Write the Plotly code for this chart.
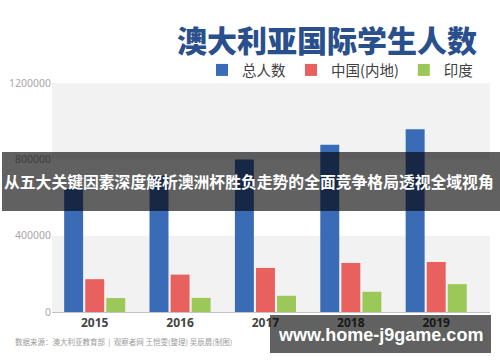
import plotly.graph_objects as go

years = ["2015", "2016", "2017", "2018", "2019"]
total = [645000, 714000, 799000, 876000, 957000]
china = [172000, 196000, 231000, 257000, 262000]
india = [73000, 74000, 85000, 106000, 146000]

series_names = ["总人数", "中国(内地)", "印度"]
colors = ["#3a6bb6", "#e8615f", "#9cc85a"]
ytick_vals = [0, 400000, 800000, 1200000]
ytick_text = ["0", "400000", "800000", "1200000"]

title_text = "澳大利亚国际学生人数"
banner_text = "从五大关键因素深度解析澳洲杯胜负走势的全面竞争格局透视全域视角"
source_text = "数据来源：澳大利亚教育部  |  观察者网 王恺雯(整理) 吴辰晨(制图)"
watermark_text = "www.home-j9game.com"

W, H = 500, 362
L, R, T, B = 52, 10, 83, 50
PW = W - L - R
PH = H - T - B


def px(x):
    return (x - L) / PW


def py(y):
    return (H - B - y) / PH


fig = go.Figure()
for name, vals, c in zip(series_names, [total, china, india], colors):
    fig.add_trace(go.Bar(x=years, y=vals, name=name, marker=dict(color=c, line=dict(width=0))))

shapes = [
    dict(type="rect", xref="paper", yref="y", x0=0, x1=1, y0=0, y1=400000,
         fillcolor="#f2f2f2", line=dict(width=0), layer="below"),
    dict(type="rect", xref="paper", yref="y", x0=0, x1=1, y0=800000, y1=1200000,
         fillcolor="#f2f2f2", line=dict(width=0), layer="below"),
    dict(type="rect", xref="paper", yref="paper", x0=px(2), x1=px(500), y0=py(211), y1=py(152),
         fillcolor="rgba(0,0,0,0.62)", line=dict(width=0), layer="above"),
    dict(type="rect", xref="paper", yref="paper", x0=px(270), x1=px(491), y0=py(353), y1=py(315),
         fillcolor="rgba(0,0,0,0.62)", line=dict(width=0), layer="above"),
]

annotations = [
    dict(text=title_text, xref="paper", yref="paper", x=px(479), y=py(39), xanchor="right",
         yanchor="middle", showarrow=False,
         font=dict(family="Noto Sans CJK SC", size=30, color="#2a4f8d", weight=900)),
    dict(text=source_text, xref="paper", yref="paper", x=px(13), y=py(341), xanchor="left",
         yanchor="middle", showarrow=False,
         font=dict(family="Noto Sans CJK SC", size=7.5, color="#9a9a9a")),
    dict(text=banner_text, xref="paper", yref="paper", x=px(249), y=py(181), xanchor="center",
         yanchor="middle", showarrow=False,
         font=dict(family="Noto Sans CJK SC", size=15.8, color="#ffffff", weight="bold")),
    dict(text=watermark_text, xref="paper", yref="paper", x=px(380), y=py(335), xanchor="center",
         yanchor="middle", showarrow=False,
         font=dict(family="Liberation Sans", size=18, color="#ffffff", weight="bold")),
]

fig.update_layout(
    width=W, height=H,
    margin=dict(l=L, r=R, t=T, b=B, pad=0, autoexpand=False),
    paper_bgcolor="#ffffff", plot_bgcolor="#ffffff",
    barmode="group", bargap=0.26, bargroupgap=0.1,
    showlegend=True,
    legend=dict(orientation="h", xanchor="right", x=px(478), yanchor="middle", y=py(70),
                font=dict(family="Noto Sans CJK SC", size=14.5, color="#404040"),
                bgcolor="rgba(0,0,0,0)", traceorder="normal"),
    shapes=shapes,
    annotations=annotations,
    xaxis=dict(type="category", range=[-0.5, 4.63], showgrid=False, zeroline=False,
               showline=True, linecolor="#c4c4c4", linewidth=1, ticks="", automargin=False,
               tickfont=dict(family="Noto Sans", size=12, color="#444444", weight="bold")),
    yaxis=dict(range=[0, 1200000], tickvals=ytick_vals, ticktext=ytick_text, showgrid=False,
               zeroline=False, showline=False, ticks="", automargin=False,
               tickfont=dict(family="Noto Sans", size=10.5, color="#a8a8a8")),
)

fig.write_html("out.html", config={"displayModeBar": False},
               post_script="document.body.style.margin='0';document.body.style.overflow='hidden';")
